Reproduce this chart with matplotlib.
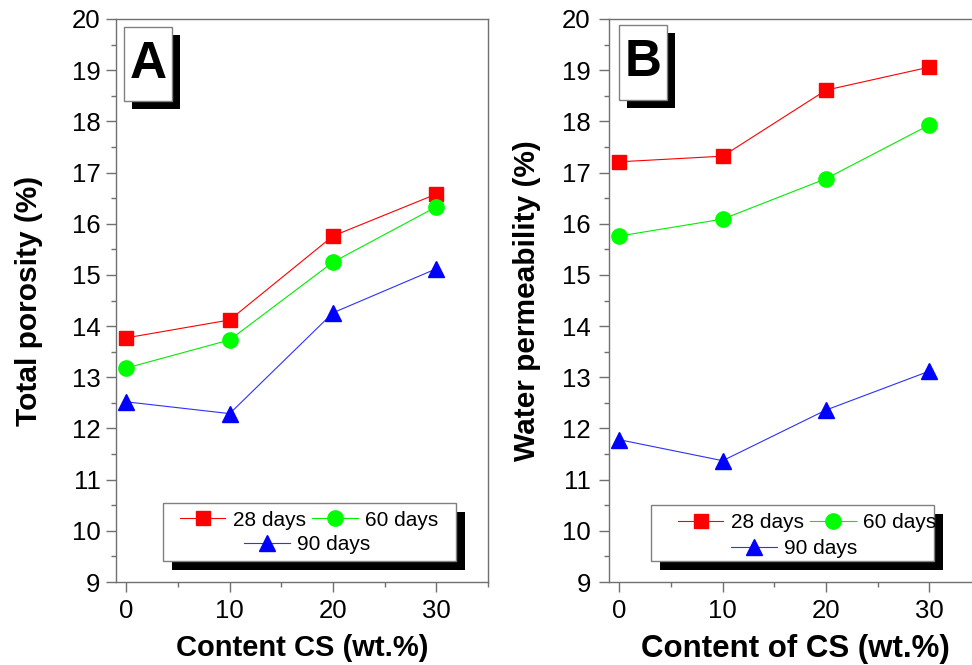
import matplotlib
matplotlib.use('Agg')
import matplotlib.pyplot as plt
from matplotlib.patches import Rectangle
from matplotlib.ticker import MultipleLocator

plt.rcParams['font.family'] = ['Liberation Sans', 'DejaVu Sans']

# data
content = [0, 10, 20, 30]
poro_28 = [13.77, 14.12, 15.76, 16.58]
poro_60 = [13.18, 13.73, 15.25, 16.33]
poro_90 = [12.52, 12.29, 14.26, 15.12]
perm_28 = [17.21, 17.32, 18.61, 19.06]
perm_60 = [15.76, 16.09, 16.88, 17.93]
perm_90 = [11.78, 11.37, 12.36, 13.12]
series_labels = ['28 days', '60 days', '90 days']

W, H = 972, 665
fig = plt.figure(figsize=(W / 100, H / 100), dpi=100)
gray = '#707070'


def fbox(ax, x0, y0, x1, y1, d=8):
    # white box with black drop shadow, given in figure pixels
    sh = Rectangle(((x0 + d) / W, 1 - (y1 + d) / H), (x1 - x0) / W, (y1 - y0) / H,
                   transform=fig.transFigure, facecolor='black', edgecolor='none',
                   zorder=3, clip_on=False)
    bx = Rectangle((x0 / W, 1 - y1 / H), (x1 - x0) / W, (y1 - y0) / H,
                   transform=fig.transFigure, facecolor='white', edgecolor='#808080',
                   linewidth=1, zorder=4, clip_on=False)
    ax.add_patch(sh)
    ax.add_patch(bx)


def panel(left, y28, y60, y90, ylabel, xlabel, letter, lbox, legbox, row1, row2, xlsize, ypad, ylpad):
    ax = fig.add_axes([left / W, 83 / H, 372 / W, 563 / H])
    h1, = ax.plot(content, y28, color='red', lw=0.8, marker='s', ms=10, mec='red', label=series_labels[0])
    h2, = ax.plot(content, y60, color='#00ee00', lw=0.8, marker='o', ms=11, mfc='#00ff00', mec='#00ff00', label=series_labels[1])
    h3, = ax.plot(content, y90, color='#3030ff', lw=0.8, marker='^', ms=12, mfc='blue', mec='blue', label=series_labels[2])
    ax.set_xlim(-1, 35)
    ax.set_ylim(9, 20)
    ax.xaxis.set_major_locator(MultipleLocator(10))
    ax.xaxis.set_minor_locator(MultipleLocator(5))
    ax.yaxis.set_major_locator(MultipleLocator(1))
    ax.yaxis.set_minor_locator(MultipleLocator(0.5))
    for s in ax.spines.values():
        s.set_color(gray)
        s.set_linewidth(1)
    ax.tick_params(which='major', direction='out', length=7.2, width=1, color=gray, labelsize=18.5)
    ax.tick_params(which='minor', direction='out', length=3.6, width=1, color=gray)
    ax.tick_params(axis='y', pad=ypad)
    ax.tick_params(axis='x', pad=5)
    ax.set_ylabel(ylabel, fontsize=21.5, fontweight='bold', labelpad=ylpad)
    ax.set_xlabel(xlabel, fontsize=xlsize, fontweight='bold', labelpad=8)

    fbox(ax, *lbox)
    ax.text((lbox[0] + lbox[2]) / 2 / W, 1 - (lbox[1] + lbox[3]) / 2 / H, letter,
            transform=fig.transFigure, ha='center', va='center',
            fontsize=37, fontweight='bold', zorder=6)

    fbox(ax, *legbox, d=9)
    kw = dict(frameon=False, fontsize=15, handlelength=2.2, handletextpad=0.35,
              columnspacing=0.3, borderpad=0, borderaxespad=0,
              bbox_transform=fig.transFigure, loc='center')
    leg1 = ax.legend([h1, h2], series_labels[:2], ncol=2,
                     bbox_to_anchor=(row1[0] / W, 1 - row1[1] / H), **kw)
    leg1.set_zorder(6)
    ax.add_artist(leg1)
    leg2 = ax.legend([h3], series_labels[2:], bbox_to_anchor=(row2[0] / W, 1 - row2[1] / H), **kw)
    leg2.set_zorder(6)
    return ax


panel(116, poro_28, poro_60, poro_90, 'Total porosity (%)', 'Content CS (wt.%)', 'A',
      (124, 27, 172, 101), (163, 503, 456, 561), (309, 520), (307, 545), 21, 4, 21)
panel(609, perm_28, perm_60, perm_90, 'Water permeability (%)', 'Content of CS (wt.%)', 'B',
      (619, 25, 667, 100), (651, 505, 934, 561), (807, 523), (794, 549), 22.5, 6, 15)

fig.savefig('out.png', dpi=100)
